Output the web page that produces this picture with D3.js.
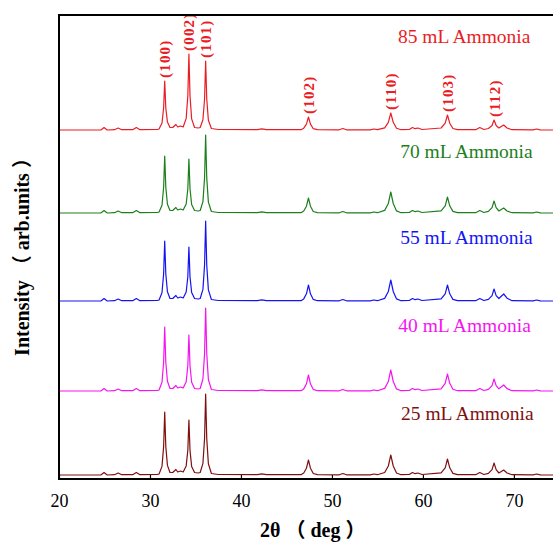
<!DOCTYPE html>
<html>
<head>
<meta charset="utf-8">
<script src="https://cdn.jsdelivr.net/npm/d3@7"></script>
<style>
  html, body { margin: 0; padding: 0; background: #fff; }
  svg { display: block; }
</style>
</head>
<body>
<script>
// ---- DATA ----
const twoTheta = [
  20.0, 24.6, 24.95, 25.3, 26.1, 26.5, 26.9, 28.1, 28.5, 28.9, 30.8,
  31.0, 31.32, 31.5, 31.62, 31.74, 31.92, 32.2,
  32.5, 32.85, 33.05, 33.35, 33.65,
  33.98, 34.16, 34.28, 34.40, 34.58, 34.9,
  35.3, 35.52, 35.82, 36.0, 36.12, 36.24, 36.42, 36.75,
  37.5, 41.8, 42.3, 42.8, 46.6,
  46.9, 47.2, 47.42, 47.64, 47.95, 48.4,
  50.8, 51.2, 51.6, 54.2, 54.6, 55.0,
  55.8, 56.2, 56.47, 56.74, 57.1, 57.6,
  58.5, 58.85, 59.15, 59.45, 59.9,
  62.0, 62.45, 62.7, 62.95, 63.3, 63.8,
  65.8, 66.25, 66.7,
  67.2, 67.6, 67.82, 68.05, 68.35, 68.88, 69.25, 69.8,
  72.1, 72.5, 72.9, 74.3
];

const s85 = [
  0, 0, 2.5, 0, 0.3, 2, 0.3, 0.3, 2.5, 0.3, 0.5,
  1, 6.9, 22, 49, 22, 7.9, 2.5,
  2.5, 5.5, 3, 4, 3,
  11.6, 34.2, 76, 34.2, 11.1, 2.5,
  2, 2.5, 10.3, 31, 69, 31, 9.8, 1.5,
  0.5, 0.3, 1.2, 0.3, 0.3,
  1.8, 5.9, 13, 5.9, 1.3, 0.3,
  0.2, 1.5, 0.2, 0.2, 1, 0.3,
  2.2, 7.7, 17, 7.7, 1.7, 0.3,
  0.5, 2.5, 1.3, 2, 0.5,
  2, 6.8, 15, 6.8, 1.5, 0.3,
  0.3, 2.5, 0.5,
  1.5, 4.5, 10, 4.5, 2, 5, 2, 0.3,
  0.2, 1, 0.2, 0
];

const s70 = [
  0, 0, 2.5, 0, 0.3, 2, 0.3, 0.3, 2.5, 0.3, 0.5,
  1, 7.8, 25.7, 57, 25.7, 8.8, 2.5,
  2.5, 5.5, 3, 4, 3,
  9, 24.3, 54, 24.3, 8.5, 2.5,
  2, 2.5, 11.4, 35.1, 78, 35.1, 10.9, 1.5,
  0.5, 0.3, 1.2, 0.3, 0.3,
  2, 6.8, 15, 6.8, 1.5, 0.3,
  0.2, 1.5, 0.2, 0.2, 1, 0.3,
  2.6, 9.5, 21, 9.5, 2.1, 0.3,
  0.5, 2.5, 1.3, 2, 0.5,
  2.1, 7.2, 16, 7.2, 1.6, 0.3,
  0.3, 2.5, 0.5,
  1.7, 5.4, 12, 5.4, 2, 5, 2, 0.3,
  0.2, 1, 0.2, 0
];

const s55 = [
  0, 0, 2.5, 0, 0.3, 2, 0.3, 0.3, 2.5, 0.3, 0.5,
  1, 8.2, 27, 60, 27, 9.2, 2.5,
  2.5, 5.5, 3, 4, 3,
  9, 24.3, 54, 24.3, 8.5, 2.5,
  2, 2.5, 11.6, 36, 80, 36, 11.1, 1.5,
  0.5, 0.3, 1.2, 0.3, 0.3,
  2.1, 7.2, 16, 7.2, 1.6, 0.3,
  0.2, 1.5, 0.2, 0.2, 1, 0.3,
  2.6, 9.5, 21, 9.5, 2.1, 0.3,
  0.5, 2.5, 1.3, 2, 0.5,
  2.1, 7.2, 16, 7.2, 1.6, 0.3,
  0.3, 2.5, 0.5,
  1.7, 5.4, 12, 5.4, 2.5, 7, 2.8, 0.3,
  0.2, 1, 0.2, 0
];

const s40 = [
  0, 0, 2.5, 0, 0.3, 2, 0.3, 0.3, 2.5, 0.3, 0.5,
  1, 8.7, 28.8, 64, 28.8, 9.7, 2.5,
  2.5, 5.5, 3, 4, 3,
  9.2, 25.2, 56, 25.2, 8.7, 2.5,
  2, 2.5, 12, 37.4, 83, 37.4, 11.5, 1.5,
  0.5, 0.3, 1.2, 0.3, 0.3,
  2.1, 7.2, 16, 7.2, 1.6, 0.3,
  0.2, 1.5, 0.2, 0.2, 1, 0.3,
  2.6, 9.5, 21, 9.5, 2.1, 0.3,
  0.5, 2.5, 1.3, 2, 0.5,
  2.2, 7.7, 17, 7.7, 1.7, 0.3,
  0.3, 2.5, 0.5,
  1.7, 5.4, 12, 5.4, 2.2, 6, 2.4, 0.3,
  0.2, 1, 0.2, 0
];

const s25 = [
  0, 0, 2.5, 0, 0.3, 2, 0.3, 0.3, 2.5, 0.3, 0.5,
  1, 8.6, 28.4, 63, 28.4, 9.6, 2.5,
  2.5, 5.5, 3, 4, 3,
  9.1, 24.8, 55, 24.8, 8.6, 2.5,
  2, 2.5, 11.7, 36.5, 81, 36.5, 11.2, 1.5,
  0.5, 0.3, 1.2, 0.3, 0.3,
  2, 6.8, 15, 6.8, 1.5, 0.3,
  0.2, 1.5, 0.2, 0.2, 1, 0.3,
  2.5, 9, 20, 9, 2, 0.3,
  0.5, 2.5, 1.3, 2, 0.5,
  2.1, 7.2, 16, 7.2, 1.6, 0.3,
  0.3, 2.5, 0.5,
  1.7, 5.4, 12, 5.4, 2, 5, 2, 0.3,
  0.2, 1, 0.2, 0
];

const seriesNames = ["85 mL Ammonia", "70 mL Ammonia", "55 mL Ammonia", "40 mL Ammonia", "25 mL Ammonia"];
const seriesValues = [s85, s70, s55, s40, s25];
const seriesOffsets = [349, 266, 178, 88, 4];
const seriesColors = ["#ea1d24", "#1c7f1c", "#1414f2", "#f514f0", "#7f1010"];

const hklLabels = ["(100)", "(002)", "(101)", "(102)", "(110)", "(103)", "(112)"];
const hklTheta = [31.62, 34.28, 36.12, 47.42, 56.47, 62.7, 67.82];

const xTicks = [20, 30, 40, 50, 60, 70];

// ---- LAYOUT ----
(function () {
const W = 553, H = 544;
const mLeft = 59, mTop = 15, mBottom = 479, mRight = 553;

const svg = d3.select("body").append("svg").attr("width", W).attr("height", H);

const x = d3.scaleLinear().domain([20, 74.3]).range([mLeft, mRight]);
const y = d3.scaleLinear().domain([0, 464]).range([mBottom, mTop]);

const serif = "'Liberation Serif', 'Times New Roman', 'Noto Sans CJK SC', serif";

const line = d3.line()
  .x(d => x(d[0]))
  .y(d => y(d[1]));

seriesValues.forEach((vals, i) => {
  const pts = twoTheta.map((t, k) => [t, vals[k] + seriesOffsets[i]]);
  svg.append("path")
    .datum(pts)
    .attr("fill", "none")
    .attr("stroke", seriesColors[i])
    .attr("stroke-width", 1.2)
    .attr("stroke-linejoin", "round")
    .attr("d", line);
});

const labelTheta = [57.25, 57.5, 57.5, 57.3, 57.6];
const labelAbove = [87, 55, 57, 59, 55];
seriesNames.forEach((name, i) => {
  svg.append("text")
    .attr("x", x(labelTheta[i]))
    .attr("y", y(seriesOffsets[i] + labelAbove[i]))
    .attr("fill", seriesColors[i])
    .attr("font-family", serif)
    .attr("font-size", 19.5)
    .text(name);
});

hklLabels.forEach((lab, i) => {
  const idx = twoTheta.indexOf(hklTheta[i]);
  const peakY = y(s85[idx] + seriesOffsets[0]);
  svg.append("text")
    .attr("transform", `translate(${x(hklTheta[i]) + 0.5},${peakY - 3}) rotate(-90)`)
    .attr("text-anchor", "start")
    .attr("dominant-baseline", "central")
    .attr("fill", "#ea1d24")
    .attr("font-family", serif)
    .attr("font-weight", "bold")
    .attr("font-size", 15)
    .attr("letter-spacing", 1.2)
    .text(lab);
});

svg.append("path")
  .attr("d", `M${mRight + 5},${mTop} H${mLeft} V${mBottom} H${mRight + 5}`)
  .attr("fill", "none")
  .attr("stroke", "#000")
  .attr("stroke-width", 2);

const xAxis = d3.axisBottom(x).tickValues(xTicks).tickSize(-4).tickPadding(15).tickFormat(d3.format("d"));
const gx = svg.append("g").attr("transform", `translate(0,${mBottom})`).call(xAxis);
gx.select(".domain").remove();
gx.selectAll(".tick line").attr("stroke", "#000").attr("stroke-width", 1.2);
gx.selectAll(".tick text")
  .attr("font-family", serif)
  .attr("font-size", 18)
  .attr("fill", "#000");

svg.append("text")
  .attr("x", 260)
  .attr("y", 537)
  .attr("text-anchor", "start")
  .attr("font-family", serif)
  .attr("font-weight", "bold")
  .attr("font-size", 20)
  .attr("xml:space", "preserve")
  .text("2θ （ deg ）");

svg.append("text")
  .attr("transform", `translate(22,252) rotate(-90)`)
  .attr("text-anchor", "middle")
  .attr("dominant-baseline", "central")
  .attr("font-family", serif)
  .attr("font-weight", "bold")
  .attr("font-size", 20)
  .attr("xml:space", "preserve")
  .text("Intensity （ arb.units ）");
})();
</script>
</body>
</html>
